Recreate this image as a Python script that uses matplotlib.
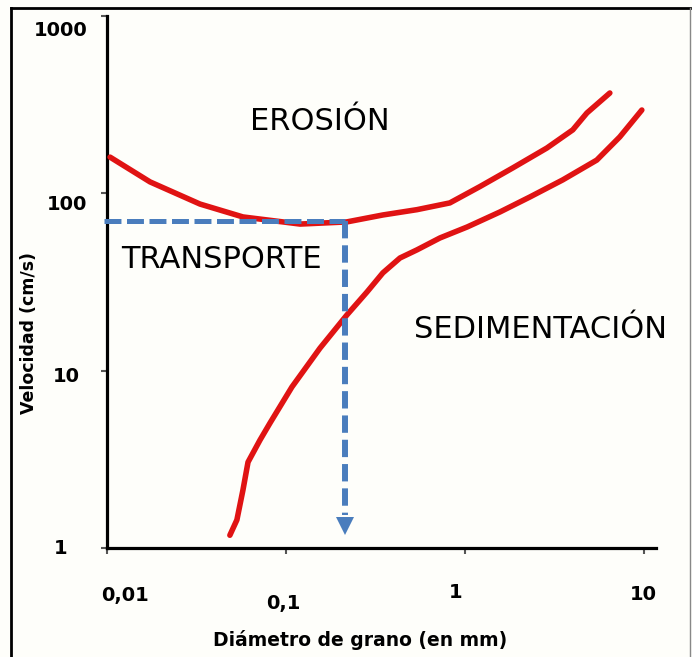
import matplotlib
matplotlib.use("Agg")
import matplotlib.pyplot as plt
from matplotlib.transforms import ScaledTranslation
from matplotlib.lines import Line2D

plt.rcParams['font.family'] = ['DejaVu Sans']
plt.rcParams['lines.scale_dashes'] = False

# ---- data ----
erosion_d = [0.0104, 0.0174, 0.0331, 0.0575, 0.120, 0.219, 0.348, 0.540,
             0.824, 1.21, 1.85, 2.87, 4.01, 4.81, 6.46]
erosion_v = [160, 116, 87, 73.6, 67.1, 69.0, 75.5, 80.9, 88.3, 109, 139,
             180, 228, 284, 368]

sedim_d = [0.0486, 0.0532, 0.0575, 0.0614, 0.0716, 0.0815, 0.108, 0.155,
           0.219, 0.284, 0.348, 0.434, 0.540, 0.725, 1.03, 1.57, 2.31, 3.52,
           5.46, 7.34, 9.75]
sedim_v = [1.18, 1.44, 2.12, 3.05, 4.06, 5.07, 8.09, 13.4, 20.6, 27.8, 35.6,
           43.2, 48.0, 56.0, 64.6, 78.5, 95.4, 119, 154, 208, 295]

guide_d = 0.214
guide_v = 70
guide_start_d = 0.0096
arrow_end_v = 1.53
arrow_head_v = 1.33

x_ticks = [0.01, 0.1, 1, 10]
x_ticklabels = ['0,01', '0,1', '1', '10']
y_ticks = [1, 10, 100, 1000]
y_ticklabels = ['1', '10', '100', '1000']

region_labels = ['EROSIÓN', 'TRANSPORTE', 'SEDIMENTACIÓN']

RED = '#e01313'
BLUE = '#4a7dbd'
BG = '#fefefa'

fig = plt.figure(figsize=(6.92, 6.57), dpi=100, facecolor=BG)
ax = fig.add_axes([107/692, 1-548/657, 549/692, 532/657], facecolor=BG)

ax.set_xscale('log')
ax.set_yscale('log')
ax.set_xlim(0.01, 11.7)
ax.set_ylim(1, 1000)

ax.plot(erosion_d, erosion_v, color=RED, lw=4.0, solid_capstyle='round',
        solid_joinstyle='round', zorder=3)
ax.plot(sedim_d, sedim_v, color=RED, lw=4.0, solid_capstyle='round',
        solid_joinstyle='round', zorder=3)

# dashed guide with arrow
hl, = ax.plot([guide_start_d, guide_d], [guide_v, guide_v], color=BLUE, lw=3.6,
              dash_capstyle='butt', zorder=4, clip_on=False)
hl.set_dashes([12.2, 4.0])
vl, = ax.plot([guide_d, guide_d], [guide_v, arrow_end_v], color=BLUE, lw=4.3,
              dash_capstyle='butt', zorder=4)
vl.set_dashes([12.5, 5.0])
ax.plot([guide_d], [arrow_head_v], marker='v', markersize=13, color=BLUE,
        markeredgewidth=0, zorder=5)

# spines
for s in ['top', 'right']:
    ax.spines[s].set_visible(False)
for s in ['left', 'bottom']:
    ax.spines[s].set_linewidth(2.3)
    ax.spines[s].set_color('black')

ax.minorticks_off()
ax.set_xticks(x_ticks)
ax.set_xticklabels(x_ticklabels)
ax.set_yticks(y_ticks)
ax.set_yticklabels(y_ticklabels)
ax.tick_params(axis='x', direction='out', length=4, width=1.5, color='#555555',
               pad=23, labelsize=14)
ax.tick_params(axis='y', direction='out', length=4, width=1.5, color='#555555',
               pad=10, labelsize=14)
for lab in ax.get_xticklabels() + ax.get_yticklabels():
    lab.set_fontweight('bold')

# small hand-drawn offsets of the tick labels (pixels)
x_off = [(18, 0), (-3, -9), (-9, 2), (0, 0)]
y_off = [(-20, 1), (-8, -4), (0, -9), (0, -12)]
for lab, (dx, dy) in zip(ax.get_xticklabels(), x_off):
    lab.set_transform(lab.get_transform() + ScaledTranslation(dx/100, dy/100, fig.dpi_scale_trans))
for lab, (dx, dy) in zip(ax.get_yticklabels(), y_off):
    lab.set_transform(lab.get_transform() + ScaledTranslation(dx/100, dy/100, fig.dpi_scale_trans))

# region labels
fig.text(320/692, 1-122/657, region_labels[0], fontsize=22, ha='center', va='center')
fig.text(221/692, 1-260/657, region_labels[1], fontsize=22, ha='center', va='center')
fig.text(540/692, 1-330/657, region_labels[2], fontsize=22, ha='center', va='center')

# axis titles
fig.text(360/692, 1-640/657, 'Diámetro de grano (en mm)', fontsize=13.5,
         fontweight='bold', ha='center', va='center')
fig.text(29/692, 1-333/657, 'Velocidad (cm/s)', fontsize=12.5, fontweight='bold',
         ha='center', va='center', rotation=90)

# picture frame
fig.add_artist(Line2D([11/692, 690/692], [1-8/657, 1-8/657], color='black', lw=2,
                      transform=fig.transFigure))
fig.add_artist(Line2D([11/692, 11/692], [0, 1-8/657], color='black', lw=2,
                      transform=fig.transFigure))
fig.add_artist(Line2D([690/692, 690/692], [0, 1-8/657], color='#888888', lw=1,
                      transform=fig.transFigure))

fig.savefig('out.png', dpi=100, facecolor=BG)
